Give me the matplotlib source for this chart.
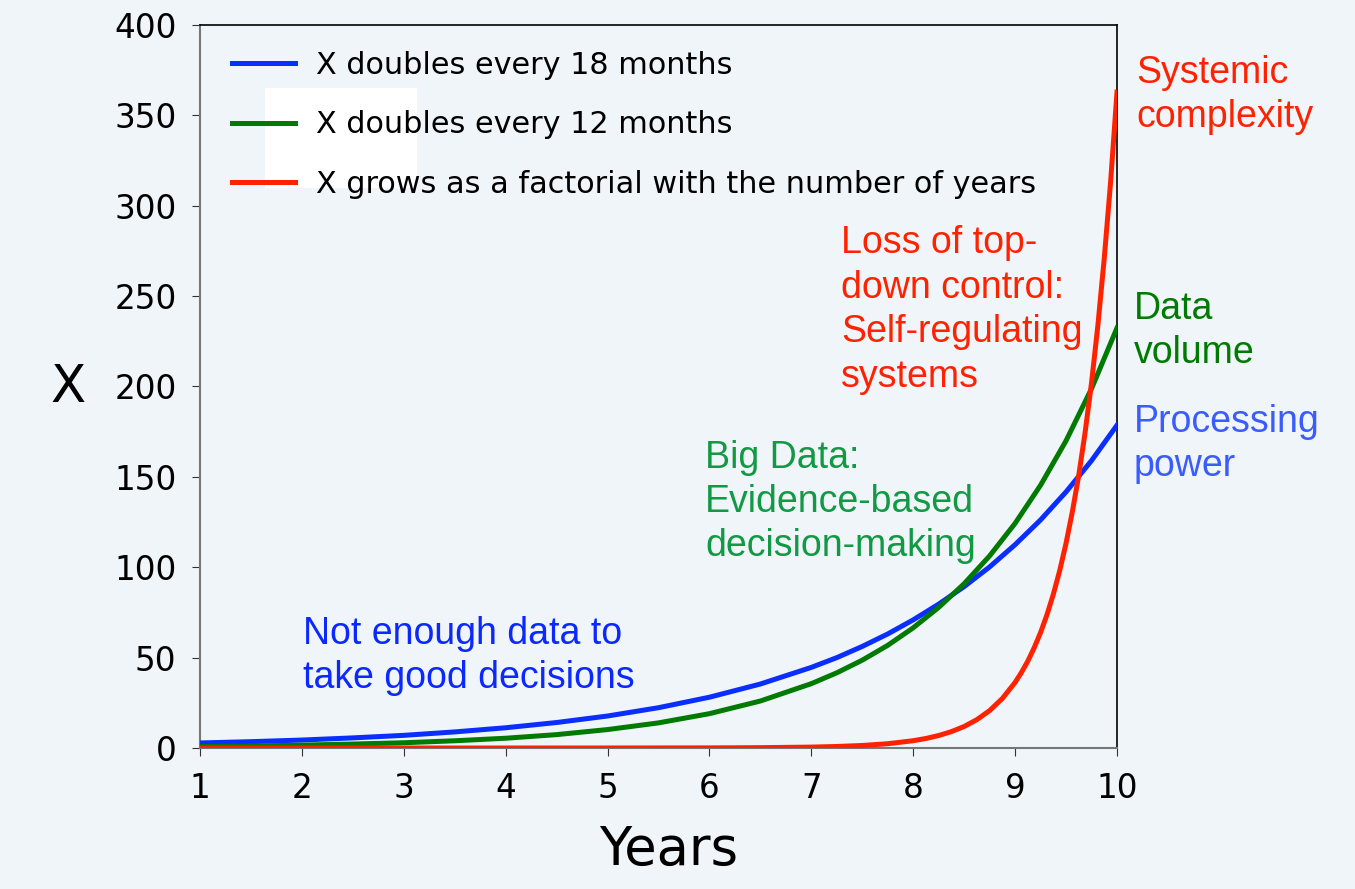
import matplotlib
matplotlib.use('Agg')
import matplotlib.pyplot as plt
import matplotlib.patches as patches

# values
years = [1, 1.5, 2, 2.5, 3, 3.5, 4, 4.5, 5, 5.5, 6, 6.5, 7, 7.25, 7.5, 7.75,
         8, 8.25, 8.5, 8.75, 9, 9.25, 9.5, 9.75, 10]
doubles_18 = [2.8, 3.5, 4.4, 5.6, 7.0, 8.9, 11.2, 14.1, 17.7, 22.3, 28.1, 35.4,
              44.6, 50.0, 56.2, 63.1, 70.9, 79.6, 89.3, 100.2, 112.5, 126.2,
              141.7, 159.0, 178.6]
doubles_12 = [0.8, 1.1, 1.6, 2.2, 2.9, 4.0, 5.4, 7.4, 10.2, 13.9, 19.0, 26.0,
              35.6, 41.6, 48.6, 56.8, 66.5, 77.8, 90.9, 106.3, 124.3, 145.4,
              170.0, 198.8, 232.4]

fact_years = [1, 2, 3, 4, 5, 6, 6.5, 7, 7.25, 7.5, 7.75, 8, 8.125, 8.25, 8.375,
              8.5, 8.625, 8.75, 8.875, 9, 9.0625, 9.125, 9.1875, 9.25, 9.3125,
              9.375, 9.4375, 9.5, 9.5625, 9.625, 9.6875, 9.75, 9.8125, 9.875,
              9.9375, 10]
factorial = [0.0, 0.0, 0.0, 0.0, 0.01, 0.07, 0.19, 0.50, 0.84, 1.40, 2.37, 4.03,
             5.27, 6.9, 9.07, 11.9, 15.7, 20.7, 27.4, 36.3, 41.8, 48.1, 55.5,
             63.9, 73.7, 85.0, 98.1, 113.3, 130.9, 151.0, 174.8, 202.0, 233.9,
             271.0, 313.3, 362.9]

legend_labels = ['X doubles every 18 months',
                 'X doubles every 12 months',
                 'X grows as a factorial with the number of years']

bg = '#f0f5fa'
W, H = 1355, 889


def px(x, y):
    return x / W, 1 - y / H


fig = plt.figure(figsize=(13.55, 8.89), dpi=100, facecolor=bg)
ax = fig.add_axes([200 / W, 1 - 748 / H, (1117 - 200) / W, (748 - 25) / H])
ax.set_facecolor(bg)

# odd white block behind the legend
block = patches.Rectangle(px(265, 188), 152 / W, 100 / H, transform=fig.transFigure,
                          facecolor='white', edgecolor='none', zorder=1, clip_on=False)
ax.add_patch(block)

ax.plot(years, doubles_18, color='#0a2eff', lw=3.6, label=legend_labels[0], zorder=3)
ax.plot(years, doubles_12, color='#007a00', lw=3.6, label=legend_labels[1], zorder=3)
ax.plot(fact_years, factorial, color='#ff2200', lw=3.6, label=legend_labels[2], zorder=3)

ax.set_xlim(1, 10)
ax.set_ylim(0, 400)
ax.set_xticks(range(1, 11))
ax.set_yticks(range(0, 401, 50))
ax.tick_params(labelsize=23.5, length=6, color='#333333', pad=11)
for s in ['left', 'bottom']:
    ax.spines[s].set_color('#777777')
    ax.spines[s].set_linewidth(1.5)
for s in ['top', 'right']:
    ax.spines[s].set_color('black')
    ax.spines[s].set_linewidth(1.2)

fig.text(*px(669, 850), 'Years', fontsize=38, ha='center', va='center')
fig.text(*px(68, 388), 'X', fontsize=37, ha='center', va='center')

leg = ax.legend(loc='upper left', bbox_to_anchor=px(232, 51),
                bbox_transform=fig.transFigure, frameon=False,
                fontsize=21.8, handlelength=2.08, handletextpad=0.7,
                labelspacing=1.0, borderaxespad=0, borderpad=0)
leg.set_zorder(5)

ann = dict(fontsize=27, family='Liberation Sans', ha='left', va='center',
           linespacing=1.3)
fig.text(*px(303, 656), 'Not enough data to\ntake good decisions', color='#0a28ff', **ann)
fig.text(*px(705, 502), 'Big Data:\nEvidence-based\ndecision-making', color='#119944', **ann)
fig.text(*px(841, 310), 'Loss of top-\ndown control:\nSelf-regulating\nsystems', color='#ff2200', **ann)
fig.text(*px(1136, 95), 'Systemic\ncomplexity', color='#ff2200', **ann)
fig.text(*px(1134, 331), 'Data\nvolume', color='#007a00', **ann)
fig.text(*px(1134, 444), 'Processing\npower', color='#3a5cff', **ann)

fig.savefig('out.png', dpi=100, facecolor=bg)
